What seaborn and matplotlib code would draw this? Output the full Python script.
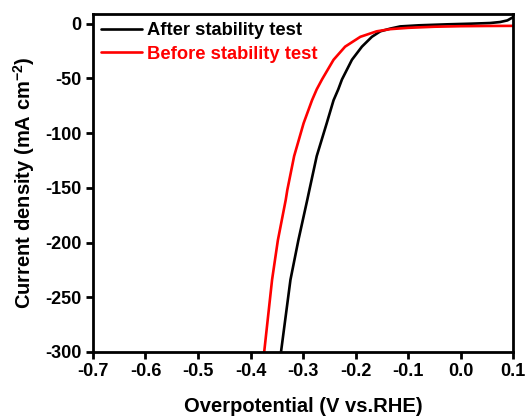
import matplotlib
matplotlib.use("Agg")
import matplotlib.pyplot as plt
import seaborn as sns
import pandas as pd

sns.set_theme(style="ticks")
plt.rcParams['font.family'] = ['Liberation Sans', 'DejaVu Sans']
plt.rcParams['font.weight'] = 'bold'
plt.rcParams['mathtext.default'] = 'regular'
plt.rcParams['text.color'] = 'black'
plt.rcParams['axes.labelcolor'] = 'black'

series_names = ["After stability test", "Before stability test"]
series_colors = ["black", "#ff0000"]

after_v = [-0.342, -0.324, -0.309, -0.292, -0.288, -0.274, -0.255, -0.242, -0.233,
           -0.226, -0.207, -0.188, -0.169, -0.153, -0.134, -0.115, -0.080, -0.026,
           0.020, 0.056, 0.075, 0.089, 0.100]
after_j = [-300, -234, -198, -161, -152, -121, -91, -70, -60,
           -51, -33, -21, -12, -7, -4.5, -2.5, -1.5, -0.6,
           0.0, 0.6, 1.5, 3.0, 6.0]

before_v = [-0.374, -0.359, -0.348, -0.333, -0.330, -0.317, -0.299, -0.283, -0.274,
            -0.264, -0.242, -0.220, -0.191, -0.160, -0.134, -0.100, -0.050, 0.000,
            0.050, 0.100]
before_j = [-300, -234, -198, -161, -152, -121, -91, -70, -60,
            -51, -33, -21, -12, -7, -5, -3.8, -2.8, -2.3,
            -2.1, -2.0]

x_ticks = [-0.7, -0.6, -0.5, -0.4, -0.3, -0.2, -0.1, 0.0, 0.1]
y_ticks = [0, -50, -100, -150, -200, -250, -300]

df = pd.concat([
    pd.DataFrame({"V": after_v, "j": after_j, "series": series_names[0]}),
    pd.DataFrame({"V": before_v, "j": before_j, "series": series_names[1]}),
], ignore_index=True)

fig = plt.figure(figsize=(5.28, 4.19), dpi=100)
ax = fig.add_axes([0.176, 0.160, 0.796, 0.807])

sns.lineplot(data=df, x="V", y="j", hue="series", palette=series_colors,
             hue_order=series_names, sort=False, estimator=None,
             linewidth=1.9, ax=ax)

ax.set_xlim(-0.7, 0.1)
ax.set_ylim(-300, 9)
ax.set_xticks(x_ticks)
ax.set_xticklabels([f"{t:.1f}" for t in x_ticks])
ax.set_yticks(y_ticks)
ax.set_yticklabels([str(t) for t in y_ticks])

for s in ax.spines.values():
    s.set_linewidth(2)
    s.set_color("black")
ax.tick_params(axis='both', direction='out', length=5, width=2,
               labelsize=13, colors='black', pad=3)
for lab in ax.get_xticklabels() + ax.get_yticklabels():
    lab.set_fontweight('bold')

ax.set_xlabel("Overpotential (V vs.RHE)", fontsize=14.5, fontweight='bold',
              labelpad=12, color='black')
ax.set_ylabel("Current density (mA cm$^{-2}$)", fontsize=14.5, fontweight='bold',
              labelpad=6, color='black')

leg = ax.legend(loc='upper left', frameon=False, fontsize=13.2, handlelength=2.2,
                handletextpad=0.3, borderaxespad=0.05, labelspacing=0.36,
                bbox_to_anchor=(0.0, 1.0), labelcolor='linecolor')
for t in leg.get_texts():
    t.set_fontweight('bold')

fig.savefig("out.png", dpi=100)
